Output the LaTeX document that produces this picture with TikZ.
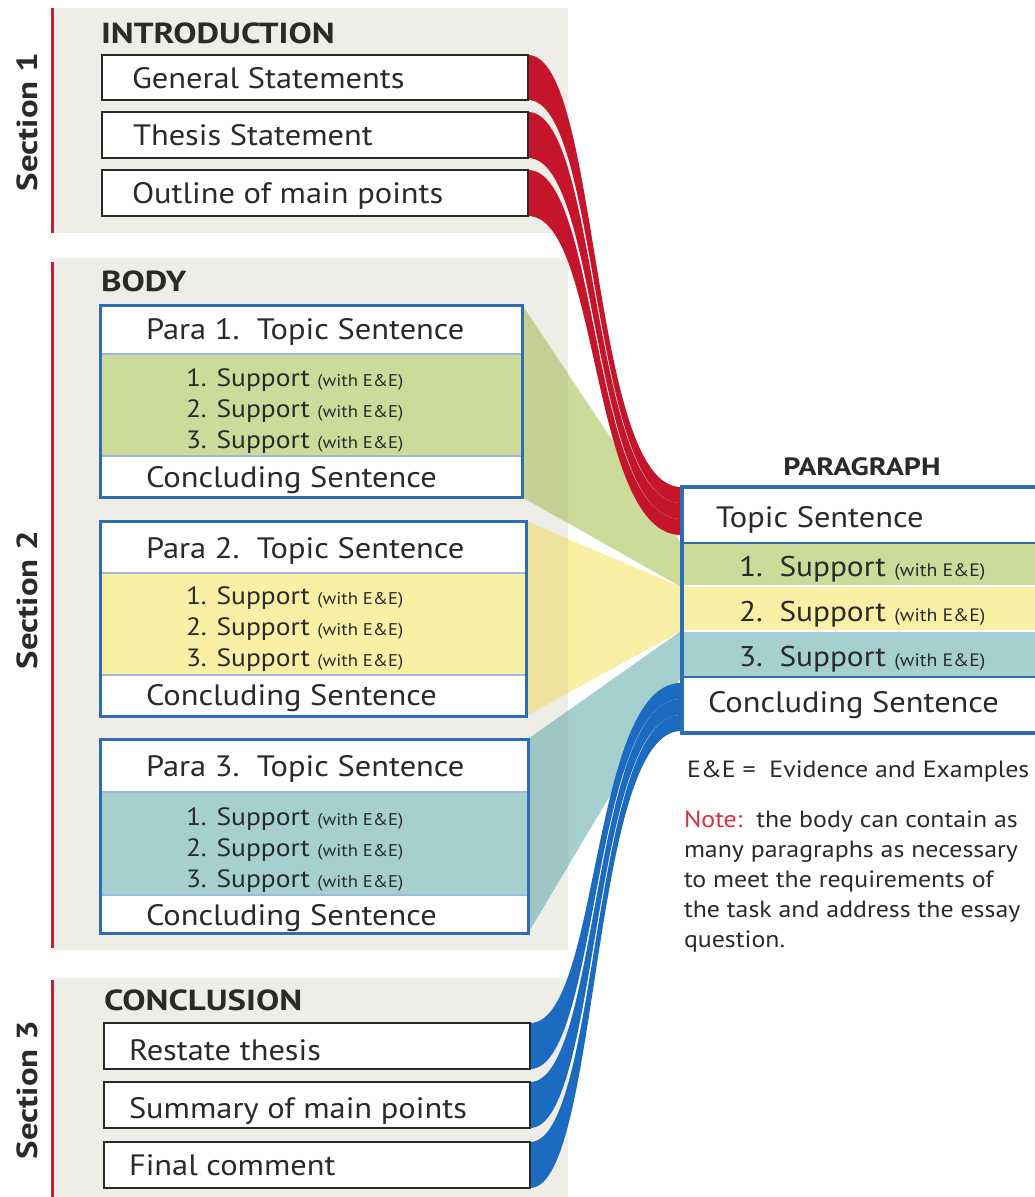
\documentclass[tikz,border=0pt]{standalone}
\usepackage{fontspec}
\setmainfont{PT Sans}[FakeStretch=1.1]
\newfontfamily\headfont{PT Sans}[FakeStretch=1.2]
\usetikzlibrary{calc}
\definecolor{bggray}{HTML}{EFEDE7}
\definecolor{secred}{HTML}{C8202F}
\definecolor{ribred}{HTML}{C5152B}
\definecolor{ribblue}{HTML}{1D6BC0}
\definecolor{boxblue}{HTML}{2C6DB6}
\definecolor{divblue}{HTML}{9DB9DE}
\definecolor{bandgreen}{HTML}{CDDB9A}
\definecolor{bandyellow}{HTML}{F9F0A6}
\definecolor{bandteal}{HTML}{A6CFCF}
\definecolor{greenD}{HTML}{C4D093}
\definecolor{yellowD}{HTML}{EEE39E}
\definecolor{tealD}{HTML}{9FC5C4}
\definecolor{txt}{HTML}{2A2A2A}
\definecolor{notered}{HTML}{D2333C}
\newcommand{\withEE}{{\fontsize{17}{17}\selectfont(with E\&E)}}
\begin{document}
\begin{tikzpicture}[x=1pt,y=-1pt,
  every node/.style={inner sep=0pt, outer sep=0pt, text=txt},
  introbox/.style={draw=txt, line width=2pt, fill=white, rectangle, anchor=north west, minimum width=426pt},
  parabox/.style={draw=boxblue, line width=3pt, rectangle, anchor=north west},
  boxtext/.style={anchor=base west, font=\fontsize{29.5}{29.5}\selectfont},
  ppsupp/.style={anchor=base west, font=\fontsize{28.5}{28.5}\selectfont},
  supptext/.style={anchor=base west, font=\fontsize{25}{25}\selectfont},
  headtext/.style={anchor=base west, font=\headfont\bfseries\fontsize{29}{29}\selectfont},
  sectext/.style={rotate=90, anchor=center, font=\headfont\bfseries\fontsize{29}{29}\selectfont},
  notetext/.style={anchor=base west, font=\fontsize{23.5}{23.5}\selectfont},
  secline/.style={draw=secred, line width=3pt}
]
\useasboundingbox (0,0) rectangle (1035,1197);
\clip (0,0) rectangle (1035,1197);

% section backgrounds
\fill[bggray] (52,8) rectangle (568,233);
\fill[bggray] (52,258) rectangle (568,950);
\fill[bggray] (52,978) rectangle (568,1197);
\draw[secline] (52,8) -- (52,233);
\draw[secline] (52,262) -- (52,948);
\draw[secline] (52,980) -- (52,1197);

\node[sectext] (sec1) at (27,122) {Section 1};
\node[sectext] (sec2) at (27,600) {Section 2};
\node[sectext] (sec3) at (27,1090) {Section 3};

\node[headtext] (hintro) at (101,43) {INTRODUCTION};
\node[headtext] (hbody) at (101,291) {BODY};
\node[headtext] (hconc) at (104,1010) {CONCLUSION};

% boxes (shapes only)
\node[introbox, minimum height=45pt] (gen) at (102,55) {};
\node[introbox, minimum height=46pt] (the) at (102,112) {};
\node[introbox, minimum height=46pt] (out) at (102,170) {};
\node[introbox, minimum height=46pt] (res) at (104,1023) {};
\node[introbox, minimum height=46pt] (sum) at (104,1082) {};
\node[introbox, minimum height=46pt] (fin) at (104,1142) {};

\node[parabox, minimum width=422pt, minimum height=192pt] (p1) at (100,305) {};
\node[parabox, minimum width=426pt, minimum height=195pt] (p2) at (100,521) {};
\node[parabox, minimum width=428pt, minimum height=194pt] (p3) at (100,739) {};
\node[parabox, line width=3.5pt, minimum width=370pt, minimum height=246pt] (pp) at (682,487) {};

% end coordinates on the paragraph box
\coordinate (cs) at (600,0);
\coordinate (ce) at (590,0);
\coordinate (r0) at (681,487);
\coordinate (r1) at (681,503);
\coordinate (r2) at (681,519);
\coordinate (r3) at (681,535);
\coordinate (b0) at (681,683);
\coordinate (b1) at (681,699);
\coordinate (b2) at (681,715);
\coordinate (b3) at (681,731);
\coordinate (g0) at (681,543);
\coordinate (g1) at (681,587);
\coordinate (g2) at (681,631);
\coordinate (g3) at (681,677);

% wedges
\fill[bandgreen] (p1.north east) -- (g0) -- (g1) -- (p1.south east) -- cycle;
\fill[bandyellow] (p2.north east) -- (g1) -- (g2) -- (p2.south east) -- cycle;
\fill[bandteal] (p3.north east) -- (g2) -- (g3) -- (p3.south east) -- cycle;
\begin{scope}
\clip (52,258) rectangle (568,950);
\fill[greenD] (p1.north east) -- (g0) -- (g1) -- (p1.south east) -- cycle;
\fill[yellowD] (p2.north east) -- (g1) -- (g2) -- (p2.south east) -- cycle;
\fill[tealD] (p3.north east) -- (g2) -- (g3) -- (p3.south east) -- cycle;
\end{scope}

% red ribbons
\fill[ribred] (gen.north east) .. controls (gen.north east -| cs) and (r0 -| ce) .. (r0) -- (r1) .. controls (r1 -| ce) and (gen.south east -| cs) .. (gen.south east) -- cycle;
\fill[ribred] (the.north east) .. controls (the.north east -| cs) and (r1 -| ce) .. (r1) -- (r2) .. controls (r2 -| ce) and (the.south east -| cs) .. (the.south east) -- cycle;
\fill[ribred] (out.north east) .. controls (out.north east -| cs) and (r2 -| ce) .. (r2) -- (r3) .. controls (r3 -| ce) and (out.south east -| cs) .. (out.south east) -- cycle;

% blue ribbons
\fill[ribblue] (res.north east) .. controls (res.north east -| cs) and (b0 -| ce) .. (b0) -- (b1) .. controls (b1 -| ce) and (res.south east -| cs) .. (res.south east) -- cycle;
\fill[ribblue] (sum.north east) .. controls (sum.north east -| cs) and (b1 -| ce) .. (b1) -- (b2) .. controls (b2 -| ce) and (sum.south east -| cs) .. (sum.south east) -- cycle;
\fill[ribblue] (fin.north east) .. controls (fin.north east -| cs) and (b2 -| ce) .. (b2) -- (b3) .. controls (b3 -| ce) and (fin.south east -| cs) .. (fin.south east) -- cycle;

% redraw intro / conclusion boxes on top
\foreach \n in {gen,the,out,res,sum,fin}{
  \draw[draw=txt, line width=2pt, fill=white] (\n.north west) rectangle (\n.south east);
}

% body box bands
\fill[white] (100,305) rectangle (522,354);
\fill[bandgreen] (100,354) rectangle (522,456);
\fill[white] (100,456) rectangle (522,497);
\fill[white] (100,521) rectangle (526,573);
\fill[bandyellow] (100,573) rectangle (526,675);
\fill[white] (100,675) rectangle (526,716);
\fill[white] (100,739) rectangle (528,792);
\fill[bandteal] (100,792) rectangle (528,895);
\fill[white] (100,895) rectangle (528,933);
\draw[divblue, line width=1.5pt] (100,354) -- (522,354) (100,456) -- (522,456);
\draw[divblue, line width=1.5pt] (100,573) -- (526,573) (100,675) -- (526,675);
\draw[divblue, line width=1.5pt] (100,792) -- (528,792) (100,895) -- (528,895);
\foreach \n in {p1,p2,p3}{
  \draw[draw=boxblue, line width=3pt] (\n.north west) rectangle (\n.south east);
}

% paragraph box bands
\fill[white] (682,487) rectangle (1052,543);
\fill[bandgreen] (682,543) rectangle (1052,586);
\fill[bandyellow] (682,586) rectangle (1052,631);
\fill[bandteal] (682,631) rectangle (1052,677);
\fill[white] (682,677) rectangle (1052,733);
\draw[white, line width=2pt] (682,586) -- (1052,586) (682,631) -- (1052,631);
\draw[boxblue, line width=2pt] (682,543) -- (1052,543) (682,677) -- (1052,677);
\draw[draw=boxblue, line width=3.5pt] (pp.north west) rectangle (pp.south east);

% texts: introduction
\node[boxtext] (tgen) at (132,88) {General Statements};
\node[boxtext] (tthe) at (133,145) {Thesis Statement};
\node[boxtext] (tout) at (132,203) {Outline of main points};

% body
\node[boxtext] (t1a) at (146,339) {Para 1.\ \ Topic Sentence};
\node[supptext] (t1b) at (186,386) {1. Support \withEE};
\node[supptext] (t1c) at (186,417) {2. Support \withEE};
\node[supptext] (t1d) at (186,448) {3. Support \withEE};
\node[boxtext] (t1e) at (146,487) {Concluding Sentence};

\node[boxtext] (t2a) at (146,558) {Para 2.\ \ Topic Sentence};
\node[supptext] (t2b) at (186,604) {1. Support \withEE};
\node[supptext] (t2c) at (186,635) {2. Support \withEE};
\node[supptext] (t2d) at (186,666) {3. Support \withEE};
\node[boxtext] (t2e) at (146,705) {Concluding Sentence};

\node[boxtext] (t3a) at (146,776) {Para 3.\ \ Topic Sentence};
\node[supptext] (t3b) at (186,825) {1. Support \withEE};
\node[supptext] (t3c) at (186,856) {2. Support \withEE};
\node[supptext] (t3d) at (186,887) {3. Support \withEE};
\node[boxtext] (t3e) at (146,925) {Concluding Sentence};

% conclusion
\node[boxtext] (tres) at (129,1060) {Restate thesis};
\node[boxtext] (tsum) at (129,1118) {Summary of main points};
\node[boxtext] (tfin) at (129,1175) {Final comment};

% paragraph
\node[anchor=base, font=\headfont\bfseries\fontsize{25}{25}\selectfont] (hpara) at (862,475) {PARAGRAPH};
\node[boxtext] (tpa) at (716,527) {Topic Sentence};
\node[ppsupp] (tpb) at (739,576) {1.\ \ Support {\fontsize{18}{18}\selectfont(with E\&E)}};
\node[ppsupp] (tpc) at (739,621) {2.\ \ Support {\fontsize{18}{18}\selectfont(with E\&E)}};
\node[ppsupp] (tpd) at (739,666) {3.\ \ Support {\fontsize{18}{18}\selectfont(with E\&E)}};
\node[boxtext] (tpe) at (708,712) {Concluding Sentence};

\node[notetext] (ee) at (687,777) {E\&E =\ \ Evidence and Examples};
\node[notetext] (n1) at (684,827) {\textcolor{notered}{Note:}\ \ the body can contain as};
\node[notetext] (n2) at (684,857) {many paragraphs as necessary};
\node[notetext] (n3) at (684,887) {to meet the requirements of};
\node[notetext] (n4) at (684,917) {the task and address the essay};
\node[notetext] (n5) at (684,947) {question.};
\end{tikzpicture}
\end{document}
